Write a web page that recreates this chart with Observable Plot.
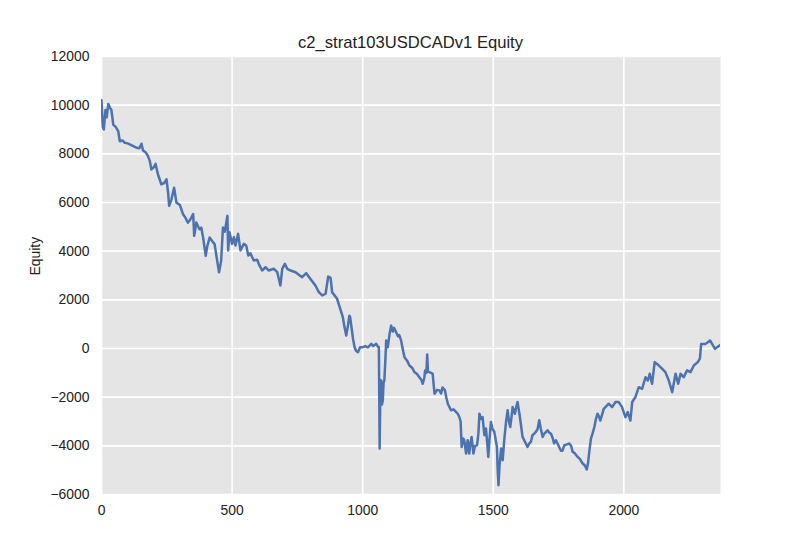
<!DOCTYPE html>
<html>
<head>
<meta charset="utf-8">
<script src="https://cdn.jsdelivr.net/npm/d3@7"></script>
<script src="https://cdn.jsdelivr.net/npm/@observablehq/plot@0.6"></script>
<style>
  html, body { margin: 0; padding: 0; background: white; }
  #wrap { width: 800px; height: 550px; overflow: hidden; }
  #title {
    width: 800px; height: 44px; box-sizing: border-box;
    padding: 35px 80px 0 101px; text-align: center;
    font-family: "Liberation Sans", Arial, sans-serif; font-size: 16.6px; line-height: 16px;
    color: #222;
  }
</style>
</head>
<body>
<div id="wrap">
  <div id="title">c2_strat103USDCADv1 Equity</div>
  <div id="chart"></div>
</div>
<script>
const titleText = "c2_strat103USDCADv1 Equity";
const yLabel = "Equity";

const days = [0,5,9,15,20,26,32,38,45,55,64,70,80,89,100,108,120,134,145,153,159,170,178,185,191,200,207,216,229,240,249,255,259,268,278,287,300,312,320,331,340,351,355,363,375,382,389,399,405,414,425,433,440,450,458,465,472,482,485,490,500,507,513,523,532,545,554,562,570,583,596,602,615,628,640,660,673,685,692,702,711,724,743,768,784,800,819,832,845,858,868,877,883,902,
915,924,930,937,943,949,952,958,963,969,975,982,990,1001,1010,1020,1033,1040,1052,1058,1062,1065,1068,1071,1074,1077,1080,1083,1088,1090,1093,1096,1103,1109,1115,1120,1128,1135,1140,1147,1153,1160,1170,1179,1190,1198,1208,1217,1225,1230,1236,1239,1244,1247,1250,1255,1262,1268,1275,1285,1294,1300,1306,1315,1320,1326,1338,1348,1358,1365,1370,1375,1379,1385,1389,1396,1402,1408,1412,1417,1424,1430,1438,1443,1447,1453,1459,1466,1472,1477,1481,1485,1491,1497,1504,1510,1514,1517,1520,1524,1530,1536,1542,1549,1555,1560,1565,1570,1574,1583,1588,1593,1599,1602,1612,1620,1631,1638,1644,1650,1657,1663,1670,1676,1682,1689,1695,1702,1708,1714,1721,1728,1733,1740,1750,1759,1765,1772,1780,1791,1798,1804,1812,1823,1832,1842,1850,1858,1863,1868,1874,1880,1887,1893,1899,
1905,1910,1923,1942,1955,1968,1980,1993,2006,2015,2025,2032,2044,2057,2070,2083,2092,2099,2108,2118,2134,2147,2159,2172,2185,2198,2208,2217,2229,2242,2255,2268,2283,2291,2296,2313,2330,2349,2366,2370];

const equity = [10200,9100,9000,9800,9500,10050,9900,9800,9200,9100,8930,8520,8550,8455,8430,8390,8330,8250,8230,8415,8140,8050,7910,7700,7360,7450,7590,7160,6750,6800,6950,6400,5860,6130,6610,5995,5900,5520,5400,5175,5300,5520,4630,5175,4900,4970,4560,3810,4200,4560,4400,4290,3800,3130,3600,4970,4800,5450,4030,4780,4300,4570,4230,4710,4030,4300,4230,3820,3915,3615,3645,3480,3205,3340,3205,3275,3135,2590,3275,3480,3275,3205,3135,2930,3095,2860,2590,2315,2180,2250,2960,2900,2315,2040,
1600,1285,900,530,900,1350,1285,800,400,55,-100,-150,50,55,100,50,190,100,190,80,55,-4110,-1300,-1310,-2300,-2130,-1400,-1310,-200,330,200,55,600,940,700,850,670,500,550,330,0,-355,-500,-700,-800,-970,-1050,-1180,-1300,-1450,-1200,-900,-1000,-245,-950,-970,-1000,-1040,-1860,-1700,-1720,-1850,-1600,-1720,-2000,-2270,-2540,-2500,-2610,-2700,-2815,-3000,-4045,-3700,-3770,-4315,-3770,-4315,-3900,-3635,-4315,-4000,-3975,-3500,-2680,-2900,-2815,-3565,-3290,-3900,-4455,-3800,-3020,-3300,-3430,-3800,-4045,-5000,-5615,-4800,-4110,-4590,-3770,-3000,-2540,-3000,-3225,-2800,-2405,-2680,-2400,-2200,-2610,-2815,-3635,-3800,-4045,-3900,-3840,-3565,-3500,-3430,-3300,-2950,-3300,-3635,-3500,-3430,-3360,-3450,-3500,-3700,-3900,-3770,-4000,-4200,-4200,-3975,-3950,-3905,-4000,-4250,-4300,-4455,-4550,-4725,-4800,-4970,-4700,-4200,-3700,-3500,-3225,-2900,-2680,
-2800,-2960,-2480,-2270,-2410,-2200,-2200,-2410,-2820,-2615,-2960,-2200,-2000,-1590,-1655,-1180,-1315,-1040,-1450,-560,-700,-835,-970,-1315,-1795,-1040,-1450,-1040,-1180,-900,-970,-700,-560,-420,190,190,330,-15,120,150];

const xTicks = [0, 500, 1000, 1500, 2000];
const yTicks = [-6000, -4000, -2000, 0, 2000, 4000, 6000, 8000, 10000, 12000];
const xDomain = [0, 2370];
const yDomain = [-6000, 12000];

const data = days.map((d, i) => ({day: d, equity: equity[i]}));
const fmt = d => (d < 0 ? "\u2212" : "") + Math.abs(d);

document.getElementById("title").textContent = titleText;

const chart = Plot.plot({
  width: 800,
  height: 506,
  marginLeft: 101,
  marginRight: 80,
  marginTop: 12,
  marginBottom: 56,
  style: {fontFamily: "'Liberation Sans', Arial, sans-serif", fontSize: "13.9px", color: "#222", background: "white"},
  x: {domain: xDomain, ticks: xTicks, tickSize: 0, tickPadding: 11, tickFormat: fmt, label: null},
  y: {domain: yDomain, ticks: yTicks, tickSize: 0, tickPadding: 12, tickFormat: fmt, label: null},
  marks: [
    Plot.frame({fill: "#e5e5e5", stroke: "none"}),
    Plot.ruleX(xTicks, {stroke: "white", strokeWidth: 1.6}),
    Plot.ruleY(yTicks, {stroke: "white", strokeWidth: 1.6}),
    Plot.line(data, {x: "day", y: "equity", stroke: "#4c72b0", strokeWidth: 2.5, strokeLinejoin: "round", clip: true}),
    Plot.text([yLabel], {text: d => d, frameAnchor: "left", dx: -66, rotate: -90, fontSize: 13.9, fill: "#222"})
  ]
});
document.getElementById("chart").appendChild(chart);
</script>
</body>
</html>
